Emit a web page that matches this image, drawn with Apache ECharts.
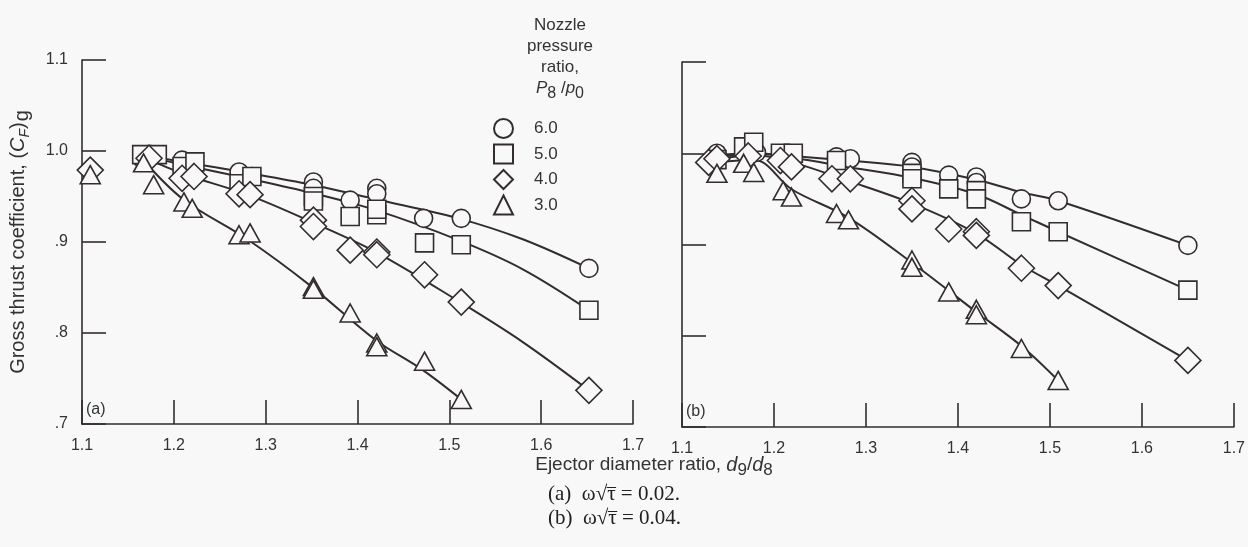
<!DOCTYPE html>
<html>
<head>
<meta charset="utf-8">
<script src="https://cdn.jsdelivr.net/npm/echarts@6/dist/echarts.min.js"></script>
<style>
  html, body { margin: 0; padding: 0; background: #f8f8f8; }
  #chart { width: 1248px; height: 547px; }
</style>
</head>
<body>
<div id="chart"></div>
<script>
// Nozzle pressure ratios and their plotting symbols
const ratios = ['6.0', '5.0', '4.0', '3.0'];
const symbols = ['circle', 'rect', 'diamond', 'triangle'];

// Panel (a): omega*sqrt(tau) = 0.02 — measured points [d9/d8, (CF)g]
const a60 = [[1.165,0.992],[1.209,0.990],[1.222,0.985],[1.271,0.977],[1.285,0.972],[1.352,0.966],[1.352,0.959],[1.392,0.946],[1.421,0.959],[1.421,0.953],[1.472,0.926],[1.513,0.926],[1.652,0.871]];
const a50 = [[1.165,0.996],[1.182,0.996],[1.209,0.983],[1.223,0.988],[1.271,0.964],[1.285,0.972],[1.352,0.950],[1.352,0.945],[1.392,0.928],[1.421,0.930],[1.421,0.936],[1.473,0.899],[1.513,0.897],[1.652,0.825]];
const a40 = [[1.109,0.979],[1.173,0.992],[1.209,0.970],[1.222,0.972],[1.271,0.953],[1.283,0.952],[1.352,0.924],[1.352,0.917],[1.392,0.891],[1.421,0.889],[1.421,0.886],[1.473,0.864],[1.513,0.834],[1.652,0.737]];
const a30 = [[1.109,0.974],[1.167,0.987],[1.178,0.963],[1.211,0.944],[1.220,0.937],[1.271,0.908],[1.283,0.910],[1.352,0.851],[1.352,0.848],[1.392,0.822],[1.421,0.789],[1.421,0.785],[1.473,0.769],[1.513,0.727]];

// Panel (a): faired curves through the data
const aFit60 = [[1.165,0.995],[1.21,0.988],[1.28,0.976],[1.35,0.963],[1.42,0.947],[1.51,0.926],[1.58,0.903],[1.652,0.871]];
const aFit50 = [[1.165,0.995],[1.21,0.985],[1.28,0.970],[1.35,0.954],[1.42,0.935],[1.51,0.902],[1.58,0.870],[1.652,0.825]];
const aFit40 = [[1.165,0.994],[1.21,0.975],[1.28,0.952],[1.35,0.922],[1.42,0.889],[1.51,0.835],[1.58,0.790],[1.652,0.737]];
const aFit30 = [[1.165,0.992],[1.21,0.947],[1.28,0.903],[1.35,0.851],[1.42,0.792],[1.47,0.760],[1.513,0.727]];

// Panel (b): omega*sqrt(tau) = 0.04 — measured points
const b60 = [[1.138,0.996],[1.138,1.000],[1.172,1.000],[1.181,1.001],[1.217,0.996],[1.268,0.996],[1.283,0.994],[1.350,0.990],[1.350,0.985],[1.390,0.976],[1.420,0.974],[1.420,0.968],[1.469,0.950],[1.509,0.948],[1.650,0.899]];
const b50 = [[1.138,0.993],[1.167,1.007],[1.178,1.012],[1.207,1.000],[1.221,1.000],[1.268,0.992],[1.350,0.978],[1.350,0.972],[1.390,0.961],[1.420,0.959],[1.420,0.950],[1.469,0.925],[1.509,0.914],[1.650,0.850]];
const b40 = [[1.129,0.990],[1.138,0.994],[1.172,0.997],[1.207,0.992],[1.219,0.985],[1.263,0.972],[1.283,0.972],[1.350,0.948],[1.350,0.939],[1.390,0.917],[1.420,0.914],[1.420,0.910],[1.469,0.874],[1.509,0.855],[1.650,0.773]];
const b30 = [[1.138,0.978],[1.167,0.989],[1.178,0.979],[1.210,0.959],[1.219,0.952],[1.268,0.934],[1.281,0.927],[1.350,0.883],[1.350,0.875],[1.390,0.848],[1.420,0.829],[1.420,0.823],[1.469,0.786],[1.509,0.751]];

// Panel (b): faired curves
const bFit60 = [[1.138,0.998],[1.178,1.000],[1.22,0.997],[1.28,0.992],[1.35,0.985],[1.42,0.971],[1.47,0.957],[1.509,0.948],[1.650,0.899]];
const bFit50 = [[1.138,0.995],[1.178,1.000],[1.22,0.995],[1.28,0.985],[1.35,0.973],[1.42,0.955],[1.47,0.932],[1.509,0.914],[1.650,0.850]];
const bFit40 = [[1.138,0.993],[1.178,0.998],[1.22,0.990],[1.28,0.970],[1.35,0.945],[1.42,0.912],[1.47,0.877],[1.509,0.855],[1.650,0.773]];
const bFit30 = [[1.138,0.990],[1.178,0.993],[1.22,0.960],[1.28,0.930],[1.35,0.880],[1.42,0.826],[1.47,0.788],[1.509,0.751]];

// Axis ranges and tick spacing
const xRange = [1.1, 1.7], xStep = 0.1;
const yRange = [0.7, 1.1], yStep = 0.1;

// Caption lines under the panels
const captions = [['(a)', '0.02.'], ['(b)', '0.04.']];

const ink = '#332d2d';
const paper = '#f8f8f8';
const sans = 'Liberation Sans, Arial, sans-serif';
const serif = 'Liberation Serif, Times New Roman, serif';

const markerSize = { circle: 18, rect: 18, diamond: 26, triangle: [20, 18] };

function yTickText(v) {
  const s = v.toFixed(1);
  return s.startsWith('0') ? s.slice(1) : s;
}

function xAxisFor(idx) {
  return {
    type: 'value', gridIndex: idx, min: xRange[0], max: xRange[1], interval: xStep,
    axisLine: { show: true, onZero: false, lineStyle: { color: ink, width: 1.6 } },
    axisTick: { show: true, inside: true, length: 24, lineStyle: { color: ink, width: 1.6 } },
    splitLine: { show: false },
    axisLabel: { formatter: v => v.toFixed(1), fontSize: 16, color: '#333', margin: 14, fontFamily: sans,
                 showMinLabel: true, showMaxLabel: true }
  };
}
function yAxisFor(idx, withLabels) {
  const ax = {
    type: 'value', gridIndex: idx, min: yRange[0], max: yRange[1], interval: yStep,
    axisLine: { show: true, onZero: false, lineStyle: { color: ink, width: 1.6 } },
    axisTick: { show: true, inside: true, length: 24, lineStyle: { color: ink, width: 1.6 } },
    splitLine: { show: false },
    axisLabel: { show: withLabels, formatter: yTickText, fontSize: 16, color: '#333', margin: 14, fontFamily: sans }
  };
  if (withLabels) {
    ax.name = '{n|Gross thrust coefficient, (}{i|C}{sub|F}{n|)}{sub2|g}';
    ax.nameLocation = 'middle';
    ax.nameGap = 50;
    ax.nameRotate = 90;
    ax.nameTextStyle = {
      fontSize: 20, color: '#333', fontFamily: sans,
      rich: {
        n: { fontSize: 20, color: '#333', fontFamily: sans, lineHeight: 28, verticalAlign: 'middle' },
        i: { fontSize: 20, fontStyle: 'italic', color: '#333', fontFamily: sans, lineHeight: 28, verticalAlign: 'middle' },
        sub: { fontSize: 14, fontStyle: 'italic', color: '#333', fontFamily: sans, lineHeight: 28, verticalAlign: 'bottom' },
        sub2: { fontSize: 20, color: '#333', fontFamily: sans, lineHeight: 28, verticalAlign: 'bottom', padding: [0, 0, 0, 1] }
      }
    };
  }
  return ax;
}

function lineSeries(name, data, idx) {
  return {
    name: name, type: 'line', xAxisIndex: idx, yAxisIndex: idx, data: data,
    smooth: 0.35, symbol: 'none', silent: true, z: 2,
    lineStyle: { color: ink, width: 2 }
  };
}
function pointSeries(k, data, idx) {
  const sym = symbols[k];
  return {
    name: ratios[k], type: 'scatter', xAxisIndex: idx, yAxisIndex: idx, data: data,
    symbol: sym, symbolSize: markerSize[sym], z: 3,
    itemStyle: { color: paper, borderColor: ink, borderWidth: 1.6, opacity: 1 }
  };
}

const panelA = [a60, a50, a40, a30];
const panelB = [b60, b50, b40, b30];
const fitsA = [aFit60, aFit50, aFit40, aFit30];
const fitsB = [bFit60, bFit50, bFit40, bFit30];

const series = [];
fitsA.forEach((d, k) => series.push(lineSeries('curve a ' + ratios[k], d, 0)));
fitsB.forEach((d, k) => series.push(lineSeries('curve b ' + ratios[k], d, 1)));
panelA.forEach((d, k) => series.push(pointSeries(k, d, 0)));
panelB.forEach((d, k) => series.push(pointSeries(k, d, 1)));

// Caption "(x) ω√τ = v." with the radical's bar drawn over τ
const capFont = '21px ' + serif;
const measureCtx = document.createElement('canvas').getContext('2d');
measureCtx.font = capFont;
const captionGraphics = [];
captions.forEach((c, i) => {
  const top = 484 + i * 24;
  const left = 548;
  const head = c[0] + '  \u03c9\u221a';
  const text = head + '\u03c4 = ' + c[1];
  const w0 = measureCtx.measureText(head).width;
  const w1 = measureCtx.measureText(head + '\u03c4').width;
  captionGraphics.push({ type: 'text', left: left, top: top, style: { text: text, font: capFont, fill: '#222' } });
  captionGraphics.push({ type: 'line', shape: { x1: left + w0 - 0.5, y1: top + 3.5, x2: left + w1 + 0.5, y2: top + 3.5 },
                         style: { stroke: '#222', lineWidth: 1 } });
});

const chart = echarts.init(document.getElementById('chart'), null, { renderer: 'canvas' });
chart.setOption({
  backgroundColor: paper,
  animation: false,
  grid: [
    { left: 82, top: 60, width: 551, height: 364 },
    { left: 682, top: 62, width: 552, height: 365 }
  ],
  xAxis: [xAxisFor(0), xAxisFor(1)],
  yAxis: [yAxisFor(0, true), yAxisFor(1, false)],
  title: [
    {
      text: 'Nozzle\npressure\nratio,\n{i|P}{sub|8}{n| /}{i|p}{sub|0}',
      left: 555, top: 10, textAlign: 'center',
      textStyle: {
        fontSize: 17, fontWeight: 'normal', color: '#333', fontFamily: sans, lineHeight: 21, align: 'center',
        rich: {
          i: { fontSize: 17, fontStyle: 'italic', color: '#333', fontFamily: sans, lineHeight: 21 },
          n: { fontSize: 17, color: '#333', fontFamily: sans, lineHeight: 21 },
          sub: { fontSize: 16, color: '#333', fontFamily: sans, padding: [10, 0, 0, 0], lineHeight: 21 }
        }
      }
    },
    {
      text: 'Ejector diameter ratio, {i|d}{sub|9}{n|/}{i|d}{sub|8}',
      left: 649, top: 446, textAlign: 'center',
      textStyle: {
        fontSize: 19, fontWeight: 'normal', color: '#333', fontFamily: sans,
        rich: {
          i: { fontSize: 20, fontStyle: 'italic', color: '#333', fontFamily: sans },
          n: { fontSize: 19, color: '#333', fontFamily: sans },
          sub: { fontSize: 17, color: '#333', fontFamily: sans, padding: [11, 0, 0, 0] }
        }
      }
    }
  ],
  legend: {
    orient: 'vertical', left: 488, top: 113,
    itemWidth: 19, itemHeight: 19, itemGap: 4.5,
    data: ratios.map((r, k) => ({ name: r, icon: symbols[k] })),
    textStyle: { fontSize: 17, color: '#333', fontFamily: sans, padding: [0, 0, 0, 16] },
    selectedMode: false
  },
  graphic: [
    { type: 'text', left: 86, top: 402, style: { text: '(a)', fontSize: 16, fill: '#333', fontFamily: sans } },
    { type: 'text', left: 686, top: 404, style: { text: '(b)', fontSize: 16, fill: '#333', fontFamily: sans } }
  ].concat(captionGraphics),
  series: series
});
</script>
</body>
</html>
